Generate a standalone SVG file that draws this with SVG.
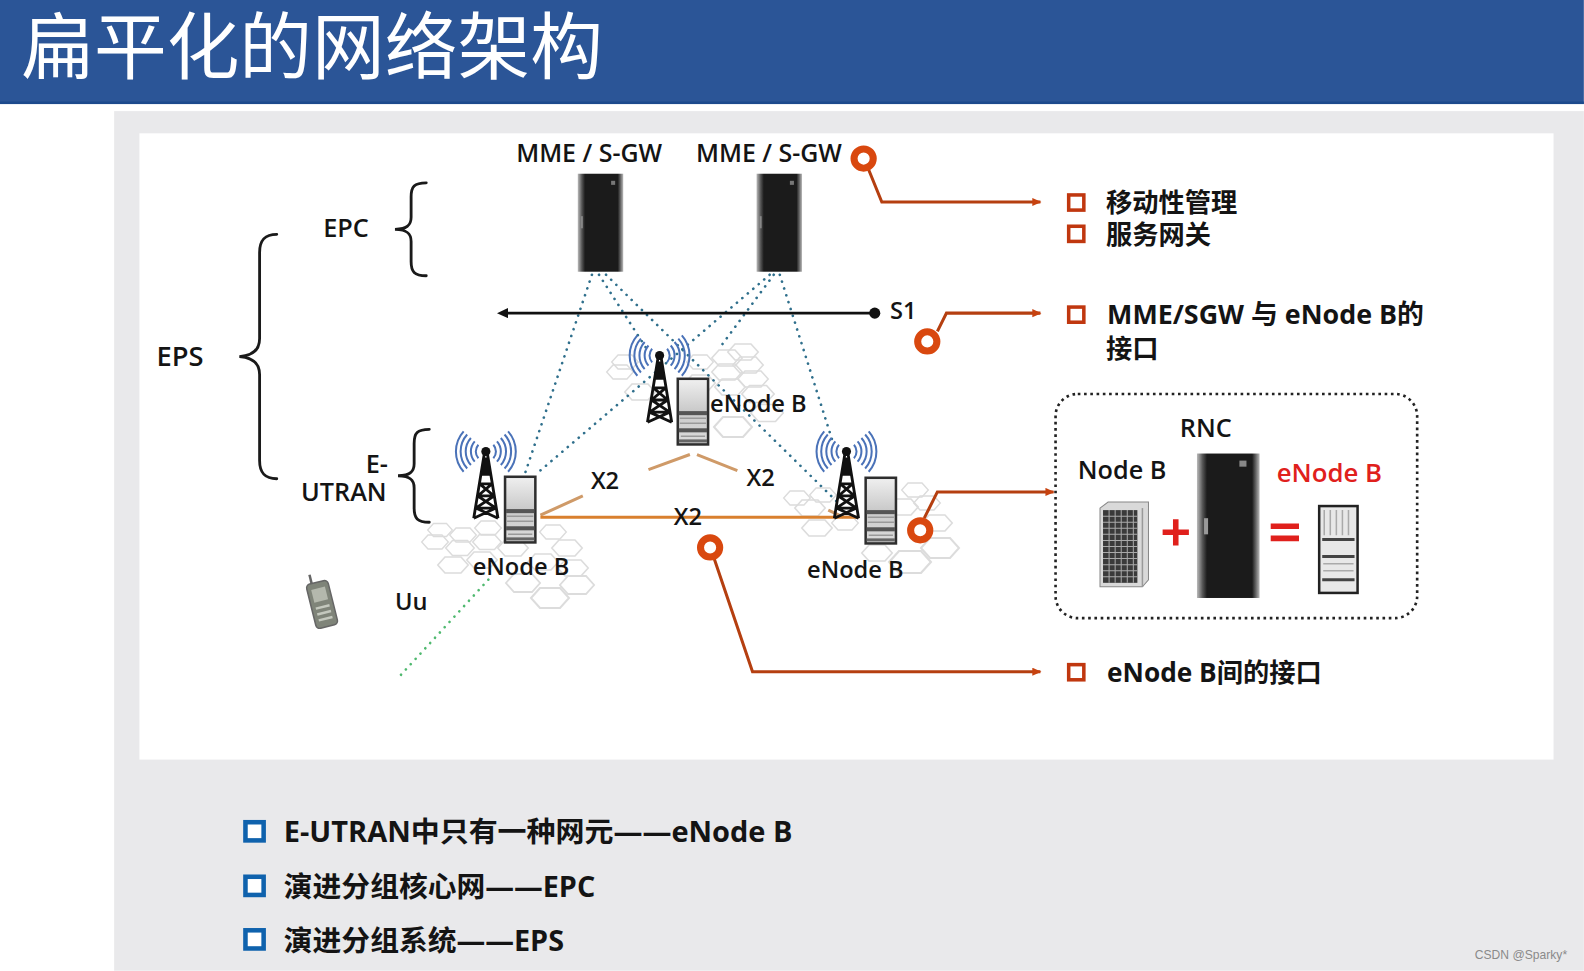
<svg xmlns="http://www.w3.org/2000/svg" xmlns:xlink="http://www.w3.org/1999/xlink" width="1584" height="971" viewBox="0 0 1584 971">
<style>
text{font-family:"Open Sans","Noto Sans CJK SC","Noto Sans",sans-serif;font-weight:600;fill:#141414}
.lb{font-size:23.4px}
.lg{font-size:25px}
.cn{font-size:26px;font-weight:700}
.cj{font-family:"Liberation Sans","Noto Sans CJK SC",sans-serif}
.bt{font-size:28.5px;font-weight:700}
.hex{fill:none;stroke:#dcdcdc;stroke-width:2}
.s1{fill:none;stroke:#2f6f8c;stroke-width:2.6;stroke-dasharray:.1 7;stroke-linecap:round}
.x2{fill:none;stroke:#cf9a68;stroke-width:3}
.red{fill:none;stroke:#b53f10;stroke-width:3}
.ring{fill:#fff;stroke:#d9480f;stroke-width:7}
.sq{fill:#fff;stroke:#c0370f;stroke-width:3.5}
.bq{fill:#fff;stroke:#0f62ad;stroke-width:4.5}
.brace{fill:none;stroke:#1a1a1a;stroke-width:2.8;stroke-linecap:round}
.wave{fill:none;stroke:#4a72b8;stroke-width:2}
</style>
<defs>
<marker id="ar" markerWidth="10" markerHeight="10" refX="8" refY="4" orient="auto" markerUnits="userSpaceOnUse"><path d="M0,0L9,4L0,8Z" fill="#c7420f"/></marker>
<marker id="ak" markerWidth="12" markerHeight="12" refX="1" refY="5" orient="auto" markerUnits="userSpaceOnUse"><path d="M0,0L11,5L0,10Z" fill="#111"/></marker>
<linearGradient id="blk" x1="0" x2="1" y1="0" y2="0"><stop offset="0" stop-color="#bbb"/><stop offset=".09" stop-color="#555"/><stop offset=".16" stop-color="#1b1b1b"/><stop offset=".88" stop-color="#1b1b1b"/><stop offset=".94" stop-color="#666"/><stop offset="1" stop-color="#bbb"/></linearGradient>
<linearGradient id="rackg" x1="0" x2="0" y1="0" y2="1"><stop offset="0" stop-color="#f0f0f0"/><stop offset=".5" stop-color="#c9c9c9"/><stop offset="1" stop-color="#dcdcdc"/></linearGradient>
<path id="h" class="hex" d="M-19,0L-10,-10H10L19,0L10,10H-10Z"/>
<g id="tower">
<path class="wave" d="M-7.4,-6.7A10,10 0 0 0 -7.4,6.7M-11,-10A15,15 0 0 0 -11,10M-14.800,-13.400A20,20 0 0 0 -14.800,13.400M-18.500,-16.800A25,25 0 0 0 -18.500,16.800M-22,-20A30,30 0 0 0 -22,20M7.400,-6.700A10,10 0 0 1 7.400,6.700M11,-10A15,15 0 0 1 11,10M14.800,-13.400A20,20 0 0 1 14.800,13.400M18.500,-16.800A25,25 0 0 1 18.500,16.800M22,-20A30,30 0 0 1 22,20"/>
<circle r="4.500" fill="#111"/>
<path d="M-1.500,2L-12,66M1.500,2L12,66M-6,32H6M-8,44H8M-10,56H10M-6,32L8,44M6,32L-8,44M-8,44L10,56M8,44L-10,56M-10,56L12,66M10,56L-12,66" fill="none" stroke="#111" stroke-width="2.800"/>
<path d="M-2.500,6H2.500L4.500,24H-4.500Z" fill="#111"/>
</g>
<g id="rack">
<rect x="1" y="1" width="30" height="65" fill="url(#rackg)" stroke="#2e2e2e" stroke-width="2.500"/>
<rect x="2" y="33" width="28" height="4" fill="#555"/>
<rect x="2" y="50" width="28" height="4" fill="#555"/>
<path d="M3,40H29M3,45H29M4,58H28" stroke="#999" stroke-width="1.500"/>
<rect x="2" y="61" width="28" height="3" fill="#666"/>
</g>
<g id="bigrack">
<rect width="45" height="97" fill="url(#blk)"/>
<rect x="33" y="7" width="4" height="4" fill="#777"/>
<rect x="3" y="42" width="2" height="12" fill="#888"/>
</g>
</defs>
<rect width="1584" height="971" fill="#fff"/>
<g transform="scale(1.0101)">
<g id="background">
<rect x="113" y="110" width="1455" height="851" fill="#e9e9eb"/>
<rect x="138" y="132" width="1400" height="620" fill="#fff"/>
</g>
<g id="header">
<rect width="1568" height="103" fill="#2b5597"/>
<rect y="100.500" width="1568" height="2.500" fill="#1c4a8c"/>
<text class="cj" x="21" y="72" style="font-size:72px;font-weight:400;fill:#fff">扁平化的网络架构</text>
</g>
<g id="cells" transform="scale(.99)">
<use xlink:href="#h" transform="translate(440 530) scale(.65)"/><use xlink:href="#h" transform="translate(463 535) scale(.7)"/><use xlink:href="#h" transform="translate(488 528) scale(.7)"/><use xlink:href="#h" transform="translate(435 542) scale(.7)"/><use xlink:href="#h" transform="translate(460 548) scale(.75)"/><use xlink:href="#h" transform="translate(487 542) scale(.75)"/><use xlink:href="#h" transform="translate(453 565) scale(.8)"/><use xlink:href="#h" transform="translate(482 560) scale(.8)"/><use xlink:href="#h" transform="translate(513 548) scale(.8)"/><use xlink:href="#h" transform="translate(553 532) scale(.7)"/><use xlink:href="#h" transform="translate(567 548) scale(.8)"/><use xlink:href="#h" transform="translate(543 562) scale(.8)"/><use xlink:href="#h" transform="translate(573 568) scale(.8)"/><use xlink:href="#h" transform="translate(523 583) scale(.9)"/><use xlink:href="#h" transform="translate(577 585) scale(.9)"/><use xlink:href="#h" transform="translate(550 598) scale(1)"/>
<use xlink:href="#h" transform="translate(625 362) scale(.7)"/><use xlink:href="#h" transform="translate(620 372) scale(.7)"/><use xlink:href="#h" transform="translate(640 392) scale(.8)"/><use xlink:href="#h" transform="translate(700 362) scale(.7)"/><use xlink:href="#h" transform="translate(743 352) scale(.8)"/><use xlink:href="#h" transform="translate(727 358) scale(.8)"/><use xlink:href="#h" transform="translate(748 365) scale(.8)"/><use xlink:href="#h" transform="translate(727 372) scale(.8)"/><use xlink:href="#h" transform="translate(753 379) scale(.8)"/><use xlink:href="#h" transform="translate(730 387) scale(.8)"/><use xlink:href="#h" transform="translate(758 394) scale(.85)"/><use xlink:href="#h" transform="translate(733 427) scale(1)"/><use xlink:href="#h" transform="translate(767 413) scale(.85)"/><use xlink:href="#h" transform="translate(700 383) scale(.8)"/>
<use xlink:href="#h" transform="translate(797 498) scale(.7)"/><use xlink:href="#h" transform="translate(823 495) scale(.7)"/><use xlink:href="#h" transform="translate(810 508) scale(.8)"/><use xlink:href="#h" transform="translate(817 528) scale(.8)"/><use xlink:href="#h" transform="translate(845 523) scale(.7)"/><use xlink:href="#h" transform="translate(915 490) scale(.7)"/><use xlink:href="#h" transform="translate(903 507) scale(.8)"/><use xlink:href="#h" transform="translate(927 503) scale(.7)"/><use xlink:href="#h" transform="translate(937 523) scale(.8)"/><use xlink:href="#h" transform="translate(940 548) scale(1)"/><use xlink:href="#h" transform="translate(910 562) scale(1.1)"/><use xlink:href="#h" transform="translate(877 553) scale(.8)"/>
</g>
<g id="connectors">
<path class="s1" d="M586,272L520,468M593,272L640,345M600,272L832,500M762,272L530,470M766,272L712,345M772,272L824,436"/>
<path d="M397,668L487,570" fill="none" stroke="#4fb96f" stroke-width="2.600" stroke-dasharray=".1 7" stroke-linecap="round"/>
<path class="x2" d="M535,510L577,491M642,465L683,450M690,450L730,466M820,505L835,512"/>
<path d="M535,512H850" fill="none" stroke="#d9802e" stroke-width="3"/>
<path d="M866,310H502" fill="none" stroke="#111" stroke-width="2.600" marker-end="url(#ak)"/>
<circle cx="866" cy="310" r="5.500" fill="#111"/>
<path class="red" marker-end="url(#ar)" d="M860,168L873,200H1030"/>
<path class="red" marker-end="url(#ar)" d="M928,328L937,310H1030"/>
<path class="red" marker-end="url(#ar)" d="M915,513L928,487H1043"/>
<path class="red" marker-end="url(#ar)" d="M707,553L745,665H1030"/>
</g>
<g id="mme1"><text class="lb" x="511" y="160" style="font-size:24.700px">MME / S-GW</text><use xlink:href="#bigrack" x="572" y="172"/></g>
<g id="mme2"><text class="lb" x="689" y="160" style="font-size:24.700px">MME / S-GW</text><use xlink:href="#bigrack" x="749" y="172"/></g>
<g id="labels">
<text class="lg" x="320" y="235">EPC</text>
<text class="lb" x="155" y="362" style="font-size:27px">EPS</text>
<text class="lg" x="362" y="468">E-</text>
<text class="lg" x="298" y="496">UTRAN</text>
<text class="lb" x="881" y="316">S1</text>
<text class="lb" x="391" y="604">Uu</text>
<text class="lb" x="585" y="484">X2</text>
<text class="lb" x="739" y="481">X2</text>
<text class="lb" x="667" y="520">X2</text>
</g>
<g id="braces">
<path class="brace" d="M422,181C410,181 407,185 407,195V215C407,222 404,227 391,227C404,227 407,232 407,239V259C407,269 410,273 422,273"/>
<path class="brace" d="M274,232C262,232 257,238 257,250V335C257,345 252,352 237,353C252,354 257,361 257,371V456C257,468 262,474 274,474"/>
<path class="brace" d="M425,425C413,425 410,429 410,439V459C410,466 407,471 394,471C407,471 410,476 410,483V503C410,513 413,517 425,517"/>
</g>
<g id="enb-center"><use xlink:href="#tower" x="653" y="352"/><use xlink:href="#rack" x="670" y="374"/><text class="lb" x="703" y="408">eNode B</text></g>
<g id="enb-left"><use xlink:href="#tower" x="481" y="447"/><use xlink:href="#rack" x="499" y="471"/><text class="lb" x="468" y="569">eNode B</text></g>
<g id="enb-right"><use xlink:href="#tower" x="838" y="447"/><use xlink:href="#rack" x="856" y="472"/><text class="lb" x="799" y="572">eNode B</text></g>
<g id="phone" transform="rotate(-14 318 595)">
<path d="M313,567V578" stroke="#666" stroke-width="2.500"/>
<rect x="307" y="576" width="22" height="45" rx="4" fill="#7f8479" stroke="#666" stroke-width="1.500"/>
<rect x="311" y="582" width="14" height="13" fill="#b4b8ad"/>
<path d="M311,601H325M311,607H325M311,613H325" stroke="#c4c8be" stroke-width="2.500"/>
</g>
<g id="rings">
<circle class="ring" cx="855" cy="157" r="9.500"/>
<circle class="ring" cx="918" cy="338" r="9.500"/>
<circle class="ring" cx="911" cy="525" r="9.500"/>
<circle class="ring" cx="703" cy="542" r="9.500"/>
</g>
<g id="note-mme">
<rect class="sq" x="1058" y="193" width="15" height="15"/>
<rect class="sq" x="1058" y="224" width="15" height="15"/>
<text class="cn cj" x="1095" y="210">移动性管理</text>
<text class="cn cj" x="1095" y="242">服务网关</text>
</g>
<g id="note-s1">
<rect class="sq" x="1058" y="304" width="15" height="15"/>
<text class="cn" x="1096" y="321" style="font-size:26.600px">MME/SGW 与 eNode B的</text>
<text class="cn cj" x="1095" y="354">接口</text>
</g>
<g id="note-x2">
<rect class="sq" x="1058" y="658" width="15" height="15"/>
<text class="cn" x="1096" y="675">eNode B间的接口</text>
</g>
<g id="evolution">
<rect x="1045" y="390" width="358" height="222" rx="22" fill="#fff" stroke="#222" stroke-width="2.600" stroke-dasharray="2.600 3.600"/>
<text class="lg" x="1168" y="433">RNC</text>
<text class="lg" x="1067" y="474">Node B</text>
<text class="lg" x="1264" y="477" style="font-size:25.500px;fill:#e0201c">eNode B</text>
<g id="nodeb-icon">
<path d="M1089,503L1097,497H1137V574L1131,581H1089Z" fill="#d9d9d9" stroke="#888"/>
<path d="M1131,503V581" stroke="#999" stroke-width="1.500"/>
<rect x="1092" y="505" width="34" height="72" fill="#3a3a3a"/>
<path d="M1092,511H1126M1092,517H1126M1092,523H1126M1092,529H1126M1092,535H1126M1092,541H1126M1092,547H1126M1092,553H1126M1092,559H1126M1092,565H1126M1092,571H1126M1098,505V577M1104,505V577M1110,505V577M1116,505V577M1122,505V577" stroke="#aaa" stroke-width="1"/>
</g>
<g id="rnc-icon">
<rect x="1185" y="449" width="62" height="143" fill="url(#blk)"/>
<rect x="1227" y="456" width="7" height="6" fill="#888"/>
<rect x="1192" y="513" width="4" height="16" fill="#999"/>
</g>
<path d="M1151,527H1177M1164,514V540" stroke="#e0201c" stroke-width="5.500" fill="none"/>
<path d="M1258,521H1286M1258,533H1286" stroke="#e0201c" stroke-width="5.500" fill="none"/>
<g id="enb-icon">
<rect x="1306" y="501" width="38" height="86" fill="#e8e8e8" stroke="#222" stroke-width="2.500"/>
<path d="M1309,534H1341M1309,551H1341M1309,574H1341" stroke="#444" stroke-width="3"/>
<path d="M1311,505V530M1317,505V530M1323,505V530M1329,505V530M1335,505V530M1310,558H1340M1310,565H1340" stroke="#aaa" stroke-width="1.500"/>
</g>
</g>
<g id="summary">
<rect class="bq" x="243" y="814" width="18" height="18"/>
<rect class="bq" x="243" y="868" width="18" height="18"/>
<rect class="bq" x="243" y="921" width="18" height="18"/>
<text class="bt" x="281" y="834" style="font-size:28.700px">E-UTRAN中只有一种网元——eNode B</text>
<text class="bt" x="281" y="888">演进分组核心网——EPC</text>
<text class="bt" x="281" y="941">演进分组系统——EPS</text>
</g>
<text x="1460" y="949" style="font-size:12px;font-weight:400;fill:#8a8a8a;font-family:'Liberation Sans',sans-serif">CSDN @Sparky*</text>
</g>
</svg>
